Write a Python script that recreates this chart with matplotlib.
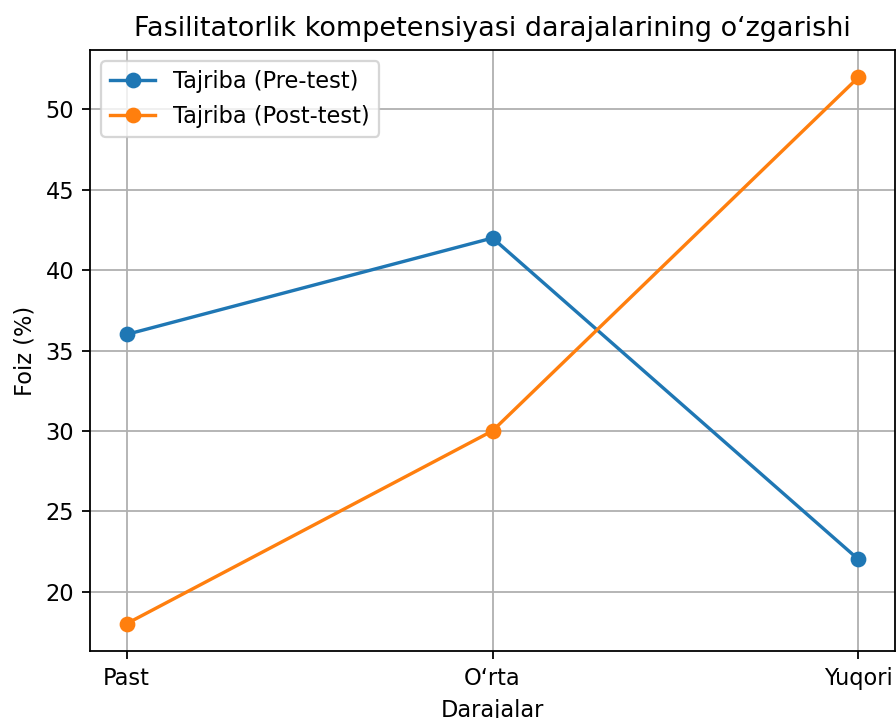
import matplotlib
matplotlib.use("Agg")
import matplotlib.pyplot as plt

categories = ["Past", "O\u2018rta", "Yuqori"]
pre_test = [36, 42, 22]
post_test = [18, 30, 52]
labels = ["Tajriba (Pre-test)", "Tajriba (Post-test)"]

DPI = 162
W, H = 896, 718
fig = plt.figure(figsize=(W / DPI, H / DPI), dpi=DPI)
ax = fig.add_axes([90 / W, (H - 651) / H, (895 - 90) / W, (651 - 50) / H])

x = list(range(len(categories)))
ax.plot(x, pre_test, marker="o", label=labels[0])
ax.plot(x, post_test, marker="o", label=labels[1])
ax.set_xticks(x)
ax.set_xticklabels(categories)
ax.set_title("Fasilitatorlik kompetensiyasi darajalarining o\u2018zgarishi")
ax.set_xlabel("Darajalar")
ax.set_ylabel("Foiz (%)")
ax.legend(loc="upper left")
ax.grid(True)

fig.savefig("out.png", dpi=DPI)
